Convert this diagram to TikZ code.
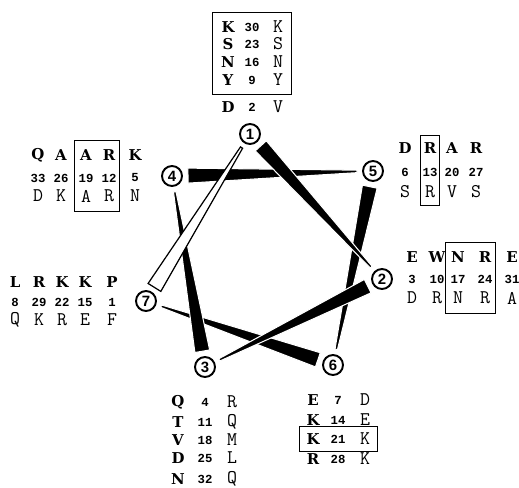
\documentclass[tikz,border=0pt]{standalone}
\usepackage{fontspec}
\setsansfont{Liberation Sans}
\newfontfamily\numfont{Liberation Mono}
\newfontfamily\resfont{DejaVu Serif}
\usetikzlibrary{calc,fit}
\tikzset{
  res/.style={inner sep=0pt,font=\fontsize{8.5}{8.5}\selectfont\resfont\bfseries},
  num/.style={inner sep=0pt,font=\fontsize{7}{7}\selectfont\numfont\bfseries},
  alt/.style={inner sep=0pt,font=\fontsize{11}{11}\selectfont\ttfamily},
  site/.style={circle,draw,line width=1.1pt,minimum size=0.4cm,inner sep=0pt,font=\fontsize{8.5}{8.5}\selectfont\sffamily\bfseries},
  hibox/.style={draw,line width=0.6pt,inner sep=3pt},
  wedge/.style={fill=black,draw=white,line width=0.6pt},
  openwedge/.style={fill=white,draw=black,line width=0.7pt}
}
\begin{document}
\begin{tikzpicture}[x=0.02cm,y=-0.02cm]
\useasboundingbox (0,0) rectangle (519,487);
\foreach \i/\x/\y in {1/250/134,2/382/279,3/205/367,4/172/176,5/373/171,6/333/365,7/146/301}
  \node[site] (p\i) at (\x,\y) {\i};
\foreach \a/\b/\w in {4/5/wedge,5/6/wedge,6/7/wedge,3/4/wedge,1/2/wedge,2/3/wedge,7/1/openwedge}{
  \coordinate (s) at ($(p\a)!0.32cm!(p\b)$);
  \coordinate (e) at ($(p\b)!0.32cm!(p\a)$);
  \path[\w] ($(s)!0.15cm!90:(e)$) -- ($(e)!0.025cm!-90:(s)$) -- ($(e)!0.025cm!90:(s)$) -- ($(s)!0.15cm!-90:(e)$) -- cycle;
}
\foreach \b/\n/\r/\y [count=\i] in {K/30/K/27,S/23/S/44,N/16/N/62,Y/9/Y/80,D/2/V/107}{
  \node[res] (s1b\i) at (228,\y) {\b};
  \node[num] (s1n\i) at (252,\y) {\n};
  \node[alt] (s1r\i) at (278,\y) {\r};
}
\node[hibox,inner sep=4.8pt,fit=(s1b1)(s1r4)] (box1) {};
\foreach \b/\n/\r/\x [count=\i] in {D/6/S/405,R/13/R/430,A/20/V/452,R/27/S/476}{
  \node[res] (s5b\i) at (\x,148) {\b};
  \node[num] (s5n\i) at (\x,172) {\n};
  \node[alt] (s5r\i) at (\x,192) {\r};
}
\node[hibox,inner xsep=1.5pt,inner ysep=4pt,fit=(s5b2)(s5r2)] (box5) {};
\foreach \b/\n/\r/\x [count=\i] in {E/3/D/412,W/10/R/437,N/17/N/458,R/24/R/485,E/31/A/512}{
  \node[res] (s2b\i) at (\x,257) {\b};
  \node[num] (s2n\i) at (\x,279) {\n};
  \node[alt] (s2r\i) at (\x,298) {\r};
}
\node[hibox,inner xsep=3pt,inner ysep=5pt,fit=(s2b3)(s2r4)] (box2) {};
\foreach \b/\n/\r/\x [count=\i] in {Q/33/D/38,A/26/K/61,A/19/A/86,R/12/R/109,K/5/N/135}{
  \node[res] (s4b\i) at (\x,155) {\b};
  \node[num] (s4n\i) at (\x,178) {\n};
  \node[alt] (s4r\i) at (\x,196) {\r};
}
\node[hibox,inner xsep=3pt,inner ysep=5pt,fit=(s4b3)(s4r4)] (box4) {};
\foreach \b/\n/\r/\x [count=\i] in {L/8/Q/15,R/29/K/39,K/22/R/62,K/15/E/85,P/1/F/112}{
  \node[res] (s7b\i) at (\x,282) {\b};
  \node[num] (s7n\i) at (\x,302) {\n};
  \node[alt] (s7r\i) at (\x,320) {\r};
}
\foreach \b/\n/\r/\y [count=\i] in {Q/4/R/402,T/11/Q/422,V/18/M/440,D/25/L/458,N/32/Q/479}{
  \node[res] (s3b\i) at (178,\y) {\b};
  \node[num] (s3n\i) at (205,\y) {\n};
  \node[alt] (s3r\i) at (232,\y) {\r};
}
\foreach \b/\n/\r/\y [count=\i] in {E/7/D/400,K/14/E/420,K/21/K/439,R/28/K/459}{
  \node[res] (s6b\i) at (313,\y) {\b};
  \node[num] (s6n\i) at (338,\y) {\n};
  \node[alt] (s6r\i) at (365,\y) {\r};
}
\node[hibox,inner xsep=4pt,inner ysep=3.5pt,fit=(s6b3)(s6r3)] (box6) {};
\end{tikzpicture}
\end{document}
